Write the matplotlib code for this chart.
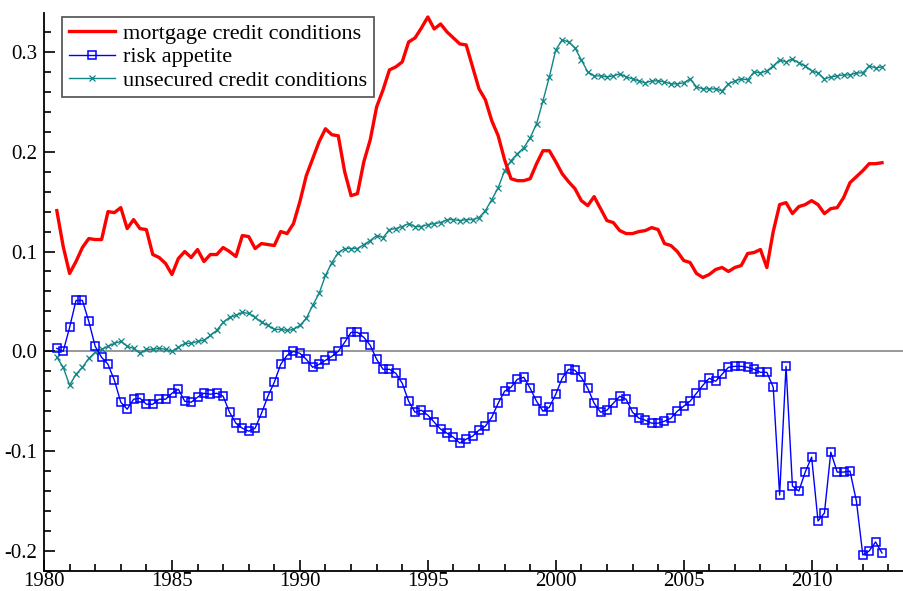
import numpy as np
import matplotlib
matplotlib.use("Agg")
import matplotlib.pyplot as plt
from matplotlib.ticker import MultipleLocator

# === Data (quarterly, 1980Q3 - 2012Q4) ===
START_YEAR = 1980.5

mortgage = [
    0.141, 0.105, 0.078, 0.090, 0.104, 0.113, 0.112, 0.112, 0.140, 0.139,
    0.144, 0.123, 0.132, 0.123, 0.122, 0.097, 0.094, 0.088, 0.077, 0.093,
    0.100, 0.094, 0.102, 0.090, 0.097, 0.097, 0.104, 0.100, 0.095, 0.116,
    0.115, 0.103, 0.108, 0.107, 0.106, 0.120, 0.118, 0.128, 0.150, 0.176,
    0.193, 0.210, 0.223, 0.217, 0.216, 0.180, 0.156, 0.158, 0.190, 0.212,
    0.245, 0.262, 0.282, 0.285, 0.290, 0.310, 0.314, 0.324, 0.335, 0.323,
    0.328, 0.320, 0.314, 0.308, 0.307, 0.285, 0.263, 0.252, 0.231, 0.216,
    0.192, 0.173, 0.171, 0.171, 0.173, 0.188, 0.201, 0.201, 0.190, 0.178,
    0.170, 0.163, 0.151, 0.146, 0.155, 0.143, 0.131, 0.129, 0.121, 0.118,
    0.118, 0.120, 0.121, 0.124, 0.122, 0.108, 0.106, 0.100, 0.091, 0.089,
    0.078, 0.074, 0.077, 0.082, 0.084, 0.080, 0.084, 0.086, 0.098, 0.099,
    0.102, 0.084, 0.120, 0.147, 0.149, 0.138, 0.145, 0.147, 0.151, 0.147,
    0.138, 0.143, 0.144, 0.154, 0.169, 0.175, 0.181, 0.188, 0.188, 0.189,
]

risk_appetite = [
    0.003, 0.000, 0.024, 0.051, 0.051, 0.030, 0.005, -0.006, -0.013, -0.029,
    -0.051, -0.058, -0.048, -0.047, -0.053, -0.053, -0.048, -0.048, -0.042, -0.038,
    -0.050, -0.051, -0.046, -0.042, -0.043, -0.042, -0.045, -0.061, -0.072, -0.077,
    -0.080, -0.077, -0.062, -0.045, -0.031, -0.013, -0.004, 0.000, -0.002, -0.008,
    -0.016, -0.013, -0.009, -0.005, 0.000, 0.009, 0.019, 0.019, 0.014, 0.006,
    -0.008, -0.018, -0.018, -0.022, -0.032, -0.050, -0.061, -0.059, -0.064, -0.071,
    -0.078, -0.082, -0.086, -0.092, -0.088, -0.085, -0.079, -0.075, -0.066, -0.052,
    -0.040, -0.036, -0.028, -0.026, -0.037, -0.050, -0.060, -0.056, -0.043, -0.027,
    -0.018, -0.019, -0.026, -0.037, -0.052, -0.061, -0.059, -0.052, -0.045, -0.048,
    -0.061, -0.067, -0.069, -0.072, -0.072, -0.070, -0.067, -0.060, -0.055, -0.050,
    -0.042, -0.034, -0.027, -0.030, -0.023, -0.016, -0.015, -0.015, -0.016, -0.018,
    -0.021, -0.021, -0.036, -0.144, -0.015, -0.135, -0.140, -0.121, -0.106, -0.170,
    -0.162, -0.101, -0.121, -0.121, -0.120, -0.150, -0.204, -0.200, -0.191, -0.202,
]

unsecured = [
    -0.006, -0.016, -0.034, -0.023, -0.016, -0.007, -0.001, 0.002, 0.005, 0.008,
    0.010, 0.005, 0.003, -0.002, 0.002, 0.002, 0.003, 0.002, 0.000, 0.004,
    0.008, 0.008, 0.010, 0.011, 0.016, 0.021, 0.029, 0.034, 0.036, 0.039,
    0.038, 0.034, 0.029, 0.026, 0.022, 0.022, 0.021, 0.022, 0.026, 0.033,
    0.046, 0.058, 0.076, 0.089, 0.099, 0.103, 0.103, 0.103, 0.107, 0.111,
    0.116, 0.114, 0.122, 0.123, 0.125, 0.128, 0.125, 0.125, 0.127, 0.128,
    0.129, 0.132, 0.132, 0.131, 0.132, 0.132, 0.134, 0.141, 0.152, 0.164,
    0.181, 0.191, 0.198, 0.204, 0.214, 0.228, 0.251, 0.275, 0.302, 0.312,
    0.310, 0.304, 0.292, 0.280, 0.276, 0.276, 0.275, 0.276, 0.278, 0.275,
    0.273, 0.271, 0.269, 0.271, 0.271, 0.270, 0.268, 0.268, 0.269, 0.273,
    0.265, 0.263, 0.263, 0.263, 0.261, 0.268, 0.271, 0.273, 0.272, 0.280,
    0.279, 0.281, 0.286, 0.292, 0.290, 0.293, 0.289, 0.286, 0.281, 0.279,
    0.273, 0.275, 0.276, 0.277, 0.277, 0.279, 0.279, 0.286, 0.284, 0.285,
]

labels = ["mortgage credit conditions", "risk appetite", "unsecured credit conditions"]

years = START_YEAR + 0.25 * np.arange(len(mortgage))

# === Plot ===
plt.rcParams['font.family'] = ['Liberation Serif', 'DejaVu Serif']

fig = plt.figure(figsize=(9.04, 5.91), dpi=100)
ax = fig.add_axes([0.0487, 0.034, 0.951, 0.944])

ax.axhline(0, color='#909090', lw=1.3, zorder=1)

ax.plot(years, mortgage, color='#ff0000', lw=2.4, label=labels[0], zorder=3)
ax.plot(years, risk_appetite, color='#0000ff', lw=1.0, marker='s', ms=5.8,
        mfc='none', mec='#0000ff', mew=1.1, label=labels[1], zorder=4)
ax.plot(years, unsecured, color='#108585', lw=1.0, marker='x', ms=5,
        mew=0.9, label=labels[2], zorder=2)

ax.set_xlim(1980, 2013.6)
ax.set_ylim(-0.22, 0.339)

ax.xaxis.set_major_locator(MultipleLocator(5))
ax.xaxis.set_minor_locator(MultipleLocator(1))
ax.yaxis.set_major_locator(MultipleLocator(0.1))
ax.yaxis.set_minor_locator(MultipleLocator(0.02))
ax.yaxis.set_major_formatter(lambda v, p: f"{v:.1f}".replace("-0.0", "0.0"))

ax.tick_params(which='both', direction='in', width=1.2, labelsize=15)
ax.tick_params(which='major', length=8)
ax.tick_params(which='minor', length=5)
ax.tick_params(axis='y', pad=5)
ax.tick_params(axis='x', pad=1)

for s in ['top', 'right']:
    ax.spines[s].set_visible(False)
for s in ['left', 'bottom']:
    ax.spines[s].set_linewidth(1.3)

leg = ax.legend(loc='upper left', bbox_to_anchor=(0.021, 0.993), fontsize=16,
                frameon=True, fancybox=False, handlelength=2.1,
                handletextpad=0.35, borderpad=0.3, labelspacing=0.12,
                borderaxespad=0)
leg.get_frame().set_edgecolor('#333333')
leg.get_frame().set_linewidth(1.3)

fig.savefig("out.png", dpi=100)
